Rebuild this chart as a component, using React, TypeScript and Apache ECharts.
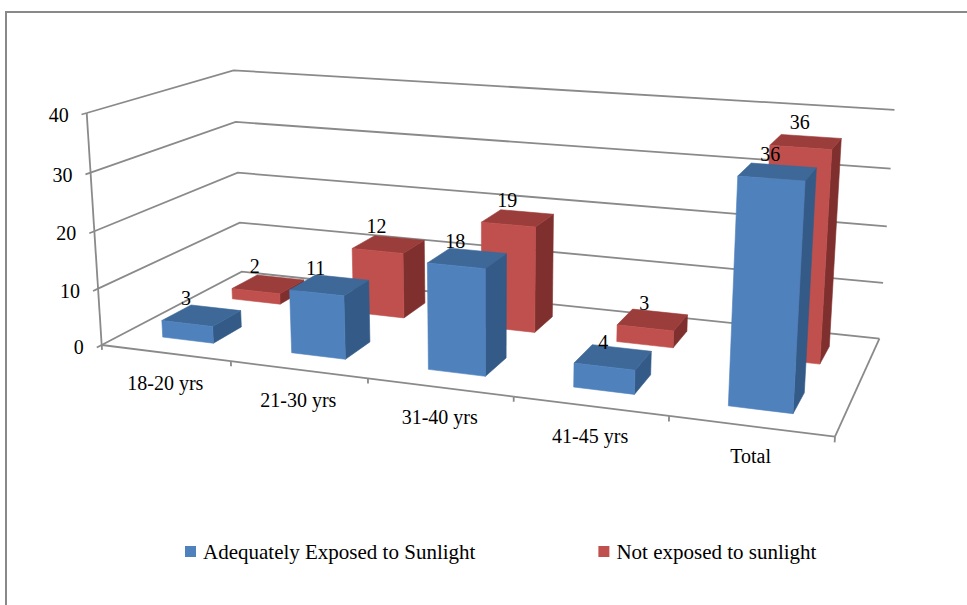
import React, { useEffect, useRef } from "react";
import * as echarts from "echarts";

// ---------- data ----------
const categories = ["18-20 yrs", "21-30 yrs", "31-40 yrs", "41-45 yrs", "Total"];
const adequatelyExposed = [3, 11, 18, 4, 36];
const notExposed = [2, 12, 19, 3, 36];
const valueTicks = [0, 10, 20, 30, 40];
const seriesNames = ["Adequately Exposed to Sunlight", "Not exposed to sunlight"];

// ---------- styling ----------
const FONT = "Liberation Serif";
const GRID_COLOR = "#8a8a8a";
const BLUE = { front: "#4F81BD", top: "#3D6898", side: "#345A87" };
const RED = { front: "#C0504D", top: "#9B3D3B", side: "#7F302E" };

// ---------- 3D view (perspective camera) ----------
const O = [101.7, 345];
const EX = [612.2, 28.4];
const EY = [-18.25, -236.24];
const EZ = [178.7, -29.8];
const WX = -0.145;
const WY = -0.0375;
const WZ = 0.16;
const BAR_WIDTH_FRAC = 0.4; // of category band
const BAR_DEPTH_HALF = 0.1; // in depth units (row depth 0.5)

function P(x: number, y: number, z: number): number[] {
  const d = 1 + WX * x + WY * y + WZ * z;
  return [
    (O[0] + EX[0] * x + EY[0] * y + EZ[0] * z) / d,
    (O[1] + EX[1] * x + EY[1] * y + EZ[1] * z) / d,
  ];
}

function toUnit(params: any, pt: number[]): number[] {
  const cs = params.coordSys;
  return [(pt[0] - cs.x) / cs.width, (cs.y + cs.height - pt[1]) / cs.height];
}

function line(a: number[], b: number[], color = GRID_COLOR, w = 1.8) {
  return {
    type: "line",
    shape: { x1: a[0], y1: a[1], x2: b[0], y2: b[1] },
    style: { stroke: color, lineWidth: w },
  };
}

function renderWalls(params: any, api: any) {
  const v = api.value(1);
  const uy = toUnit(params, api.coord([0, v]))[1];
  const children: any[] = [];
  children.push({
    type: "polyline",
    shape: { points: [P(0, uy, 0), P(0, uy, 1), P(1, uy, 1)] },
    style: { stroke: GRID_COLOR, lineWidth: 1.8, fill: null },
  });
  children.push(line(P(0, uy, -0.03), P(0, uy, 0)));
  const lp = P(0, uy, 0);
  children.push({
    type: "text",
    x: lp[0] - 18,
    y: lp[1] + 2,
    style: {
      text: String(v),
      fill: "#000",
      fontSize: 20,
      fontFamily: FONT,
      align: "right",
      verticalAlign: "middle",
    },
  });
  if (params.dataIndex === 0) {
    const topU = toUnit(params, api.coord([0, valueTicks[valueTicks.length - 1]]))[1];
    children.push(line(P(0, uy, 0), P(0, topU, 0)));
  }
  return { type: "group", children };
}

function renderFloor(params: any, api: any) {
  const cat = api.value(0);
  const c = toUnit(params, api.coord([cat, 0]));
  const band = api.size([1, 0])[0] / params.coordSys.width;
  const xl = c[0] - band / 2;
  const xr = c[0] + band / 2;
  const children: any[] = [];
  children.push(line(P(xl, 0, 0), P(xr, 0, 0)));
  children.push(line(P(xr, 0, 0), P(xr, -0.022, 0)));
  if (params.dataIndex === 0) children.push(line(P(xl, 0, 0), P(xl, -0.022, 0)));
  if (params.dataIndex === categories.length - 1) children.push(line(P(xr, 0, 0), P(xr, 0, 1)));
  const lp = P(c[0], 0, 0);
  children.push({
    type: "text",
    x: lp[0],
    y: lp[1] + 30,
    style: {
      text: categories[params.dataIndex],
      fill: "#000",
      fontSize: 20,
      fontFamily: FONT,
      align: "center",
      verticalAlign: "middle",
    },
  });
  return { type: "group", children };
}

function makeBarRenderer(zCenter: number, colors: { front: string; top: string; side: string }) {
  return (params: any, api: any) => {
    const cat = api.value(0);
    const val = api.value(1);
    const top = toUnit(params, api.coord([cat, val]));
    const base = toUnit(params, api.coord([cat, 0]));
    const band = api.size([1, 0])[0] / params.coordSys.width;
    const half = (band * BAR_WIDTH_FRAC) / 2;
    const x0 = top[0] - half;
    const x1 = top[0] + half;
    const y0 = base[1];
    const y1 = top[1];
    const z0 = zCenter - BAR_DEPTH_HALF;
    const z1 = zCenter + BAR_DEPTH_HALF;
    const face = (pts: number[][], fill: string) => ({
      type: "polygon",
      shape: { points: pts },
      style: { fill, stroke: fill, lineWidth: 0.6 },
    });
    const children: any[] = [
      face([P(x1, y0, z0), P(x1, y0, z1), P(x1, y1, z1), P(x1, y1, z0)], colors.side),
      face([P(x0, y1, z0), P(x1, y1, z0), P(x1, y1, z1), P(x0, y1, z1)], colors.top),
      face([P(x0, y0, z0), P(x1, y0, z0), P(x1, y1, z0), P(x0, y1, z0)], colors.front),
    ];
    const lp = P(top[0], y1, z0);
    children.push({
      type: "text",
      x: lp[0] - 1,
      y: lp[1] - 25,
      style: {
        text: String(val),
        fill: "#000",
        fontSize: 20,
        fontFamily: FONT,
        align: "center",
        verticalAlign: "middle",
      },
    });
    return { type: "group", children };
  };
}

const option: any = {
  animation: false,
  backgroundColor: "#ffffff",
  textStyle: { fontFamily: FONT },
  grid: { left: 100, top: 100, width: 700, height: 240, show: false },
  xAxis: { type: "category", data: categories, show: false },
  yAxis: { type: "value", min: 0, max: 40, interval: 10, show: false },
  legend: {
    data: seriesNames,
    left: 180,
    top: 536,
    itemGap: 123,
    itemWidth: 11,
    itemHeight: 11,
    icon: "rect",
    selectedMode: false,
    textStyle: { fontFamily: FONT, fontSize: 21, color: "#000", padding: [0, 0, 0, 2] },
  },
  graphic: [
    {
      type: "polyline",
      shape: { points: [[6, 605], [6, 12], [967, 12]] },
      style: { stroke: "#898989", lineWidth: 2, fill: null },
      silent: true,
    },
  ],
  series: [
    {
      type: "custom",
      name: "walls",
      coordinateSystem: "cartesian2d",
      data: valueTicks.map((v) => [categories[0], v]),
      encode: { x: 0, y: 1 },
      renderItem: renderWalls,
      z: 1,
      silent: true,
    },
    {
      type: "custom",
      name: "floor",
      coordinateSystem: "cartesian2d",
      data: categories.map((c) => [c, 0]),
      encode: { x: 0, y: 1 },
      renderItem: renderFloor,
      z: 1,
      silent: true,
    },
    {
      type: "custom",
      name: seriesNames[1],
      coordinateSystem: "cartesian2d",
      data: categories.map((c, i) => [c, notExposed[i]]),
      encode: { x: 0, y: 1 },
      renderItem: makeBarRenderer(0.75, RED),
      itemStyle: { color: RED.front },
      z: 2,
      silent: true,
    },
    {
      type: "custom",
      name: seriesNames[0],
      coordinateSystem: "cartesian2d",
      data: categories.map((c, i) => [c, adequatelyExposed[i]]),
      encode: { x: 0, y: 1 },
      renderItem: makeBarRenderer(0.25, BLUE),
      itemStyle: { color: BLUE.front },
      z: 3,
      silent: true,
    },
  ],
};

export default function App() {
  const ref = useRef<HTMLDivElement>(null);
  useEffect(() => {
    const chart = echarts.init(ref.current!, null, { renderer: "svg" });
    chart.setOption(option);
    return () => chart.dispose();
  }, []);
  return (
    <div
      ref={ref}
      style={{ position: "fixed", left: 0, top: 0, width: 967, height: 605, background: "#fff" }}
    />
  );
}
